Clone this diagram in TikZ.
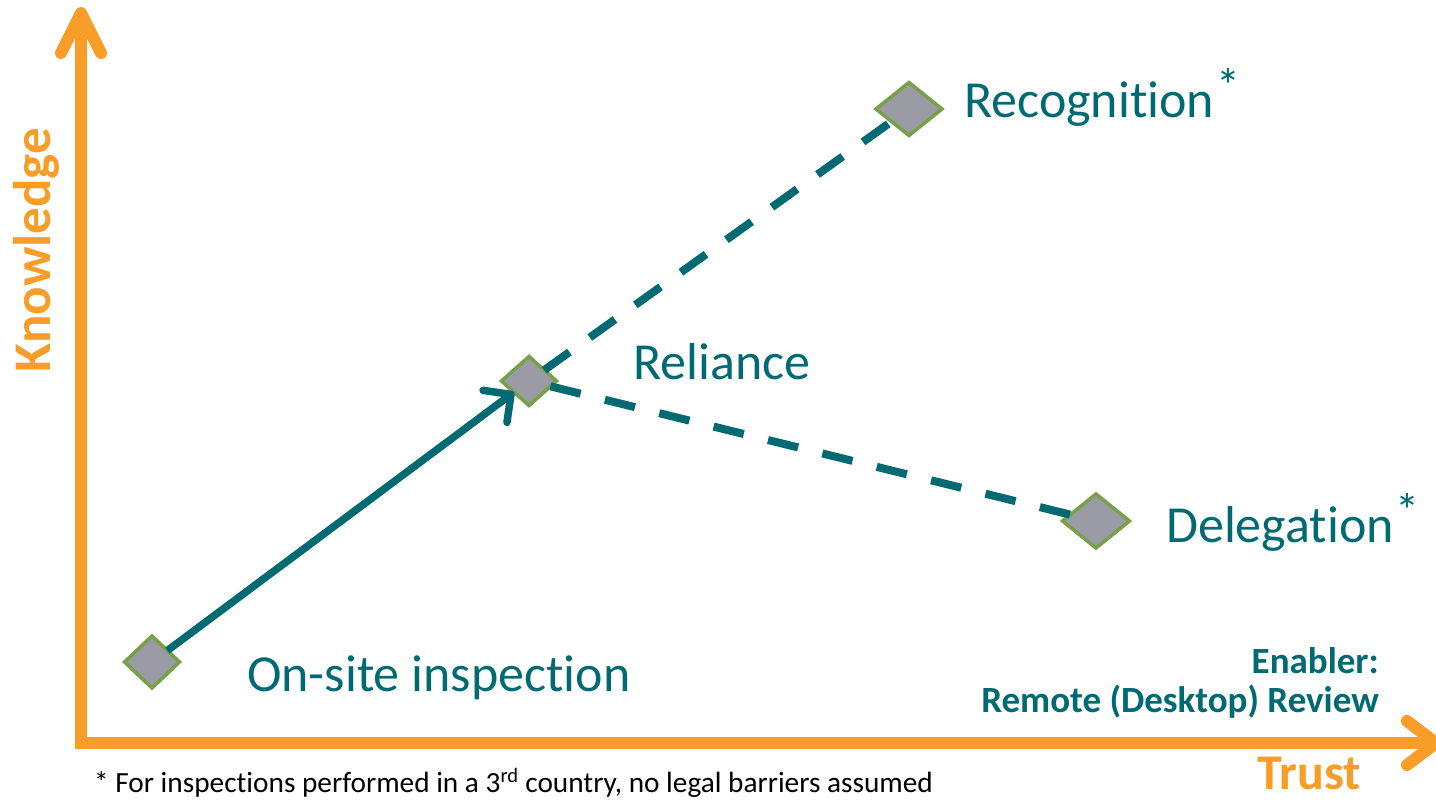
\documentclass[tikz,border=0pt]{standalone}
\usepackage{fontspec}
\setmainfont{Carlito}[Ligatures={NoCommon,NoContextual,NoRare}]
\usetikzlibrary{shapes.geometric,arrows.meta,calc}

\definecolor{tealc}{RGB}{0,106,114}
\definecolor{axisorange}{RGB}{247,157,40}
\definecolor{stagegray}{RGB}{154,155,164}
\definecolor{stagegreen}{RGB}{120,160,72}

% raised asterisk after a stage name
\newcommand{\stagestar}{\hspace{2pt}\raisebox{15pt}{\fontsize{48}{50}\selectfont *}}

\tikzset{
  stage/.style={diamond, draw=stagegreen, fill=stagegray, line width=3.5pt,
                inner sep=0pt, outer sep=0pt},
  axisline/.style={draw=axisorange, line width=12pt},
  chevron/.style={draw=axisorange, line width=12pt, line cap=round, line join=round},
  flow/.style={draw=tealc, line width=7.5pt},
  dashedflow/.style={draw=tealc, line width=8pt, dash pattern=on 31pt off 25pt},
  stagelabel/.style={text=tealc, inner sep=0pt, anchor=base west,
                     font=\fontsize{52}{60}\selectfont},
  enablerlabel/.style={text=tealc, inner sep=0pt, anchor=base east,
                       font=\fontsize{37}{40}\selectfont\bfseries},
  axislabel/.style={text=axisorange, inner sep=0pt,
                    font=\fontsize{53}{58}\selectfont\bfseries},
}

\begin{document}
\begin{tikzpicture}[x=1pt, y=-1pt]
  \useasboundingbox (0,0) rectangle (1436,801);

  % axes
  \coordinate (ytip) at (81,13);
  \coordinate (origin) at (81,743);
  \coordinate (xtip) at (1436,743);
  \draw[axisline] (ytip) -- (origin) -- (xtip);
  \draw[chevron] ($(ytip)+(-20,40)$) -- (ytip) -- ($(ytip)+(20,40)$);
  \draw[chevron] ($(xtip)+(-29,-22)$) -- (xtip) -- ($(xtip)+(-29,22)$);

  \node[axislabel, rotate=90, anchor=base] (knowledge) at (50,250) {Knowledge};
  \node[axislabel, anchor=base west, font=\fontsize{50}{56}\selectfont\bfseries]
       (trust) at (1257,789) {Trust};

  % stages
  \node[stage, minimum width=55pt, minimum height=52pt] (onsite) at (152,662) {};
  \node[stage, minimum width=55pt, minimum height=49pt] (reliance) at (529,381) {};
  \node[stage, minimum width=66pt, minimum height=53pt] (recognition) at (909,109) {};
  \node[stage, minimum width=67pt, minimum height=54pt] (delegation) at (1096,521) {};

  % connectors
  \draw[flow, -{Straight Barb[length=20pt, width=40pt, round]}] (onsite) -- (reliance);
  \draw[dashedflow] (reliance) -- (recognition);
  \draw[dashedflow] (reliance) -- (delegation);

  % stage labels
  \node[stagelabel] (onsitetext) at (247,691) {On-site inspection};
  \node[stagelabel] (reliancetext) at (633,379) {Reliance};
  \node[stagelabel] (recognitiontext) at (964,117) {Recognition\stagestar};
  \node[stagelabel] (delegationtext) at (1166,542) {Delegation\stagestar};

  % enabler note
  \node[enablerlabel] (enabler) at (1379,673) {Enabler:};
  \node[enablerlabel] (remote) at (1379,712) {Remote (Desktop) Review};

  % footnote
  \node[inner sep=0pt, anchor=base west, font=\fontsize{29.3}{32}\selectfont]
       (footnote) at (94,792)
       {* For inspections performed in a 3\textsuperscript{rd} country, no legal barriers assumed};
\end{tikzpicture}
\end{document}
